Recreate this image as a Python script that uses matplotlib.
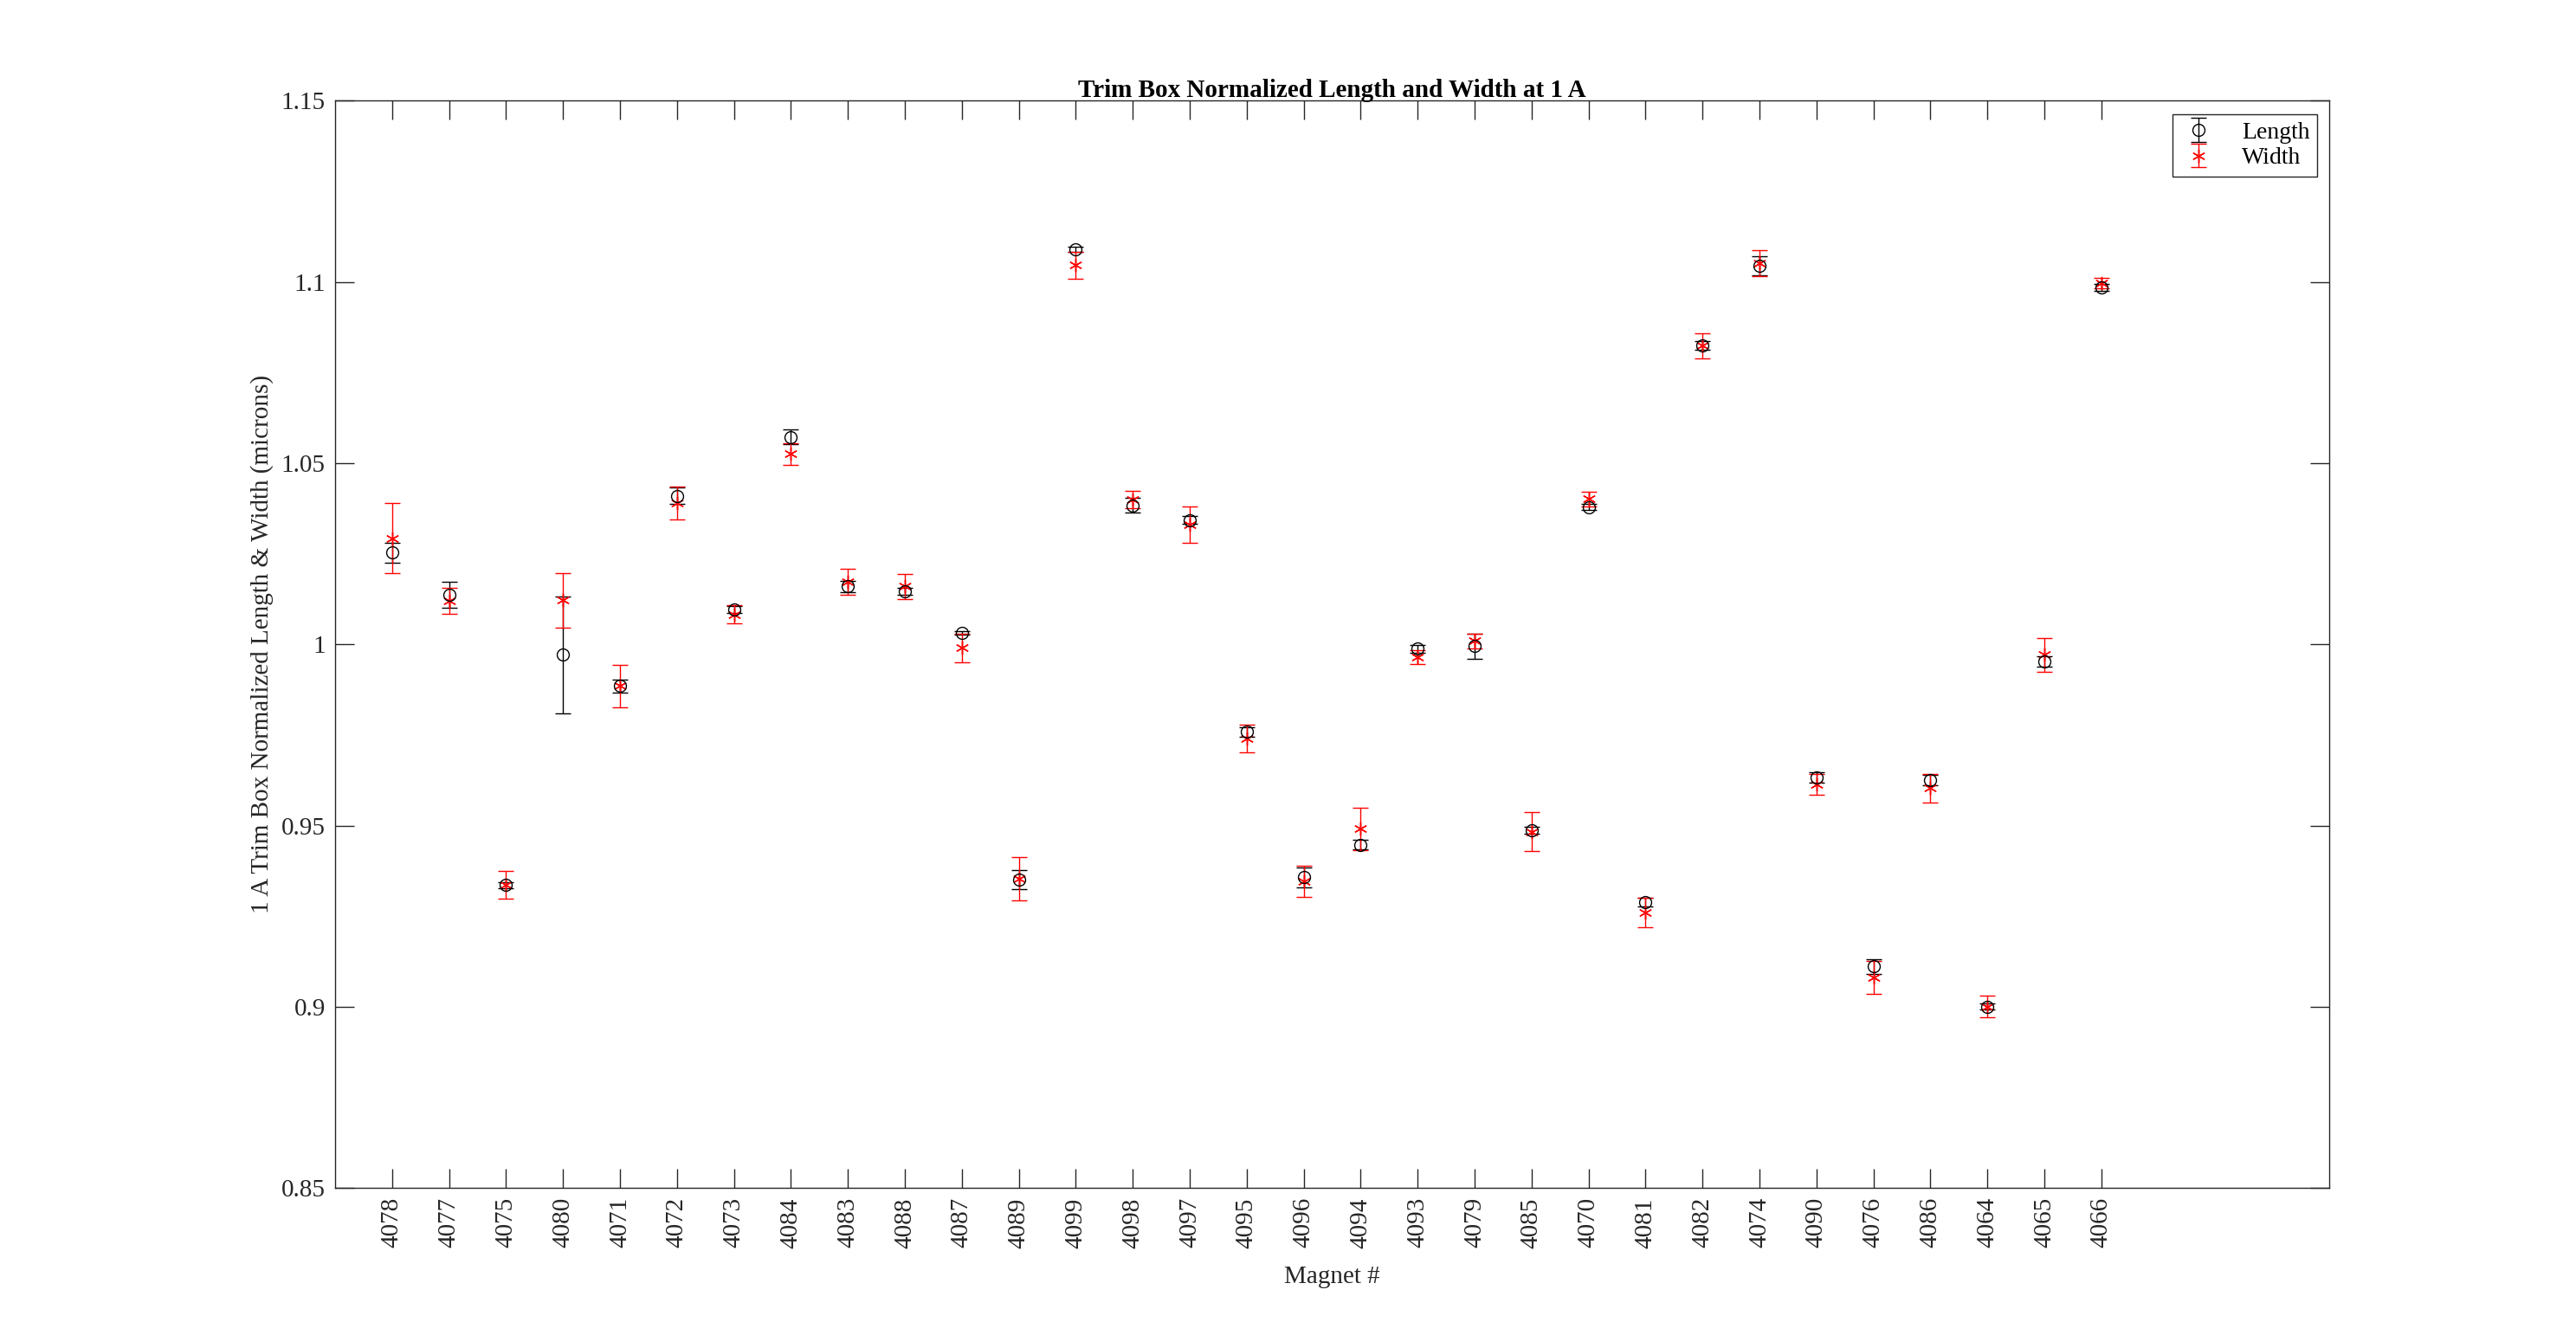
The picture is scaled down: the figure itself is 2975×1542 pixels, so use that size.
import matplotlib
matplotlib.use("Agg")
import matplotlib.pyplot as plt
from matplotlib.ticker import FixedLocator, FuncFormatter
import numpy as np

magnets = ["4078", "4077", "4075", "4080", "4071", "4072", "4073", "4084", "4083", "4088",
           "4087", "4089", "4099", "4098", "4097", "4095", "4096", "4094", "4093", "4079",
           "4085", "4070", "4081", "4082", "4074", "4090", "4076", "4086", "4064", "4065", "4066"]

length = [1.0253, 1.0137, 0.9336, 0.9971, 0.9885, 1.0410, 1.0096, 1.0572, 1.0160, 1.0147,
          1.0032, 0.9351, 1.1090, 1.0384, 1.0343, 0.9759, 0.9357, 0.9447, 0.9988, 0.9995,
          0.9487, 1.0379, 0.9289, 1.0824, 1.1045, 0.9632, 0.9111, 0.9625, 0.9000, 0.9953, 1.0985]
length_err = [0.0027, 0.0036, 0.0008, 0.0162, 0.0018, 0.0023, 0.0010, 0.0020, 0.0015, 0.0010,
              0.0005, 0.0026, 0.0008, 0.0020, 0.0010, 0.0013, 0.0028, 0.0013, 0.0011, 0.0034,
              0.0010, 0.0008, 0.0012, 0.0012, 0.0026, 0.0014, 0.0020, 0.0014, 0.0008, 0.0014, 0.0010]

width = [1.0293, 1.0120, 0.9336, 1.0122, 0.9885, 1.0390, 1.0083, 1.0526, 1.0173, 1.0160,
         0.9990, 0.9353, 1.1046, 1.0400, 1.0330, 0.9740, 0.9346, 0.9491, 0.9965, 1.0009,
         0.9483, 1.0401, 0.9260, 1.0824, 1.1052, 0.9613, 0.9081, 0.9603, 0.9000, 0.9971, 1.0997]
width_err = [0.0097, 0.0035, 0.0038, 0.0075, 0.0058, 0.0045, 0.0025, 0.0030, 0.0036, 0.0035,
             0.0040, 0.0060, 0.0036, 0.0024, 0.0050, 0.0038, 0.0044, 0.0058, 0.0020, 0.0020,
             0.0054, 0.0020, 0.0041, 0.0034, 0.0035, 0.0029, 0.0046, 0.0039, 0.0030, 0.0047, 0.0015]

yticks = [0.85, 0.9, 0.95, 1.0, 1.05, 1.1, 1.15]

plt.rcParams['font.family'] = ['Liberation Serif', 'DejaVu Serif']

fig = plt.figure(figsize=(29.75, 15.42), dpi=100)
ax = fig.add_axes([0.1301, 0.1102, 0.9042 - 0.1301, 0.9245 - 0.1102])

x = np.arange(1, len(magnets) + 1)

ax.errorbar(x, length, yerr=length_err, fmt='o', color='black', mfc='none', mec='black',
            ms=10, mew=1.0, elinewidth=1.0, capsize=6.5, capthick=1.0, label='Length')
ax.errorbar(x, width, yerr=width_err, fmt='none', ecolor='red',
            elinewidth=1.0, capsize=6.5, capthick=1.0)
ax.plot(x, width, linestyle='none', marker=(6, 2, 0), color='red', ms=11, mew=1.0)
# legend proxy for width
wh = ax.errorbar([np.nan], [np.nan], yerr=[0.01], fmt='none', ecolor='red',
                 elinewidth=1.0, capsize=6.5, capthick=1.0)
wm, = ax.plot([np.nan], [np.nan], linestyle='none', marker=(6, 2, 0), color='red', ms=11, mew=1.0)

ax.set_xlim(0, 35)
ax.set_ylim(0.85, 1.15)
ax.xaxis.set_major_locator(FixedLocator(list(x)))
ax.set_xticklabels(magnets, rotation=90)
ax.yaxis.set_major_locator(FixedLocator(yticks))
ax.yaxis.set_major_formatter(FuncFormatter(lambda v, p: '%g' % round(v, 2)))

ax.tick_params(axis='both', which='major', direction='in', length=16, width=1.0,
               top=True, right=True, labelsize=21, colors='#262626', labelcolor='#262626', pad=8)
for s in ax.spines.values():
    s.set_color('#262626')
    s.set_linewidth(1.0)

ax.set_title('Trim Box Normalized Length and Width at 1 A', fontsize=21, fontweight='bold', pad=3)
ax.set_xlabel('Magnet #', fontsize=21, color='#262626', labelpad=15)
ax.set_ylabel('1 A Trim Box Normalized Length & Width (microns)', fontsize=21, color='#262626', labelpad=6)

handles, labels = ax.get_legend_handles_labels()
leg = ax.legend([handles[0], (wh, wm)], ['Length', 'Width'], loc='upper right',
                bbox_to_anchor=(0.9939, 0.9877), borderaxespad=0, fontsize=20, frameon=True,
                fancybox=False, edgecolor='#262626', framealpha=1, handlelength=1.6,
                borderpad=0.3, labelspacing=0.15, handletextpad=1.0)
leg.get_frame().set_linewidth(1.0)

fig.savefig('out.png', dpi=100, facecolor='white')
